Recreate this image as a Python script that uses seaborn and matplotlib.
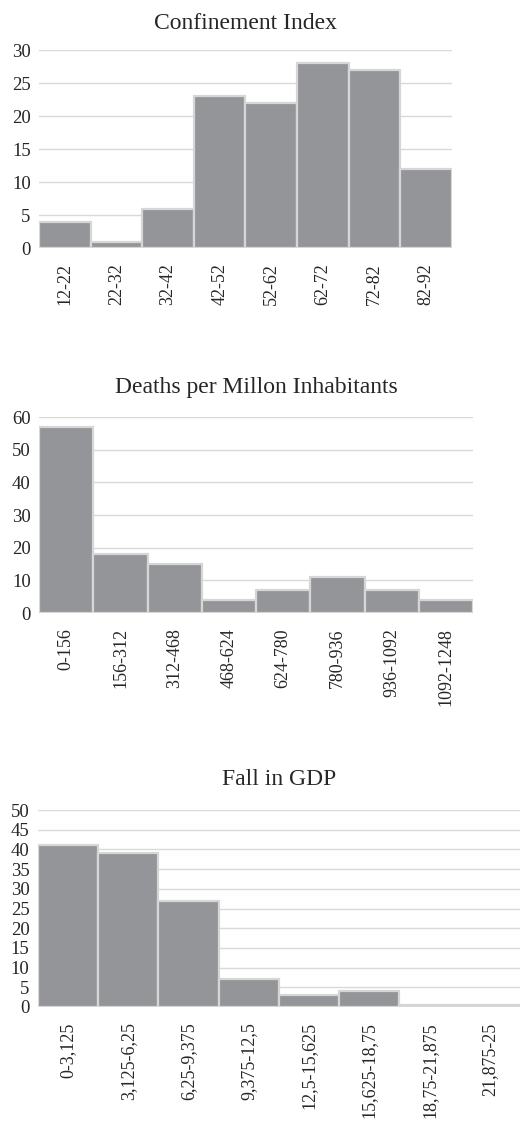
import numpy as np
import pandas as pd
import seaborn as sns
import matplotlib.pyplot as plt

# histogram bins and counts
conf_bins = ["12-22", "22-32", "32-42", "42-52", "52-62", "62-72", "72-82", "82-92"]
conf_counts = [4, 1, 6, 23, 22, 28, 27, 12]

death_bins = ["0-156", "156-312", "312-468", "468-624", "624-780", "780-936",
              "936-1092", "1092-1248"]
death_counts = [57, 18, 15, 4, 7, 11, 7, 4]

gdp_bins = ["0-3,125", "3,125-6,25", "6,25-9,375", "9,375-12,5", "12,5-15,625",
            "15,625-18,75", "18,75-21,875", "21,875-25"]
gdp_counts = [41, 39, 27, 7, 3, 4, 0.4, 0.4]

sns.set_theme(style="whitegrid")
plt.rcParams['font.family'] = ['Liberation Serif', 'DejaVu Serif']

BAR = "#949598"
EDGE = "#d6d6d6"
GRID = "#d9d9d9"
TXT = "#262626"

fig = plt.figure(figsize=(5.2, 11.23), dpi=100)

# title, bins, counts, axes rect, ymax, tick step, title pad
panels = [
    ("Confinement Index", conf_bins, conf_counts, [0.075, 0.779, 0.794, 0.1763], 30, 5, 15),
    ("Deaths per Millon Inhabitants", death_bins, death_counts, [0.075, 0.4541, 0.835, 0.1745], 60, 10, 17),
    ("Fall in GDP", gdp_bins, gdp_counts, [0.073, 0.1033, 0.927, 0.1754], 50, 5, 18),
]

for title, bins, counts, rect, ymax, step, tpad in panels:
    ax = fig.add_axes(rect)
    df = pd.DataFrame({"bin": bins, "count": counts})
    sns.barplot(data=df, x="bin", y="count", color=BAR, saturation=1, width=1.0,
                edgecolor=EDGE, linewidth=1.6, ax=ax, zorder=3)
    ax.set_xlim(-0.5, len(bins) - 0.5)
    ax.set_ylim(0, ymax)
    ax.set_yticks(np.arange(0, ymax + 1, step))
    ax.grid(axis="y", color=GRID, linewidth=1)
    ax.grid(axis="x", visible=False)
    for s in ax.spines.values():
        s.set_visible(False)
    ax.set_facecolor("white")
    ax.set_xlabel("")
    ax.set_ylabel("")
    ax.tick_params(axis="x", rotation=90, labelsize=13, pad=11, length=0, colors=TXT)
    ax.tick_params(axis="y", labelsize=13.5, pad=6, length=0, colors=TXT)
    ax.set_title(title, fontsize=17, color=TXT, pad=tpad)

fig.savefig("out.png", dpi=100, facecolor="white")
